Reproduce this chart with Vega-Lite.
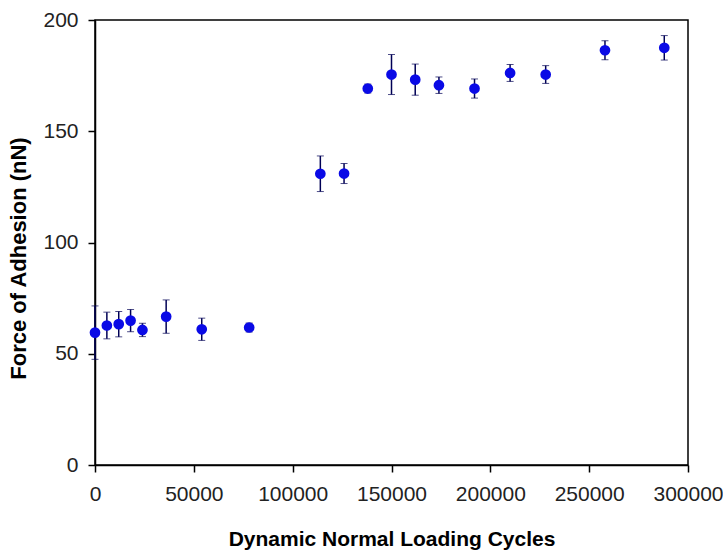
{
  "$schema": "https://vega.github.io/schema/vega-lite/v6.json",
  "width": 593,
  "height": 445,
  "autosize": {"type": "none"},
  "padding": {"left": 95, "top": 20, "right": 35, "bottom": 93},
  "background": "white",
  "config": {
    "view": {"stroke": "#000000", "strokeWidth": 1.5},
    "axis": {
      "grid": false,
      "domainColor": "#000000",
      "domainWidth": 1.5,
      "tickColor": "#000000",
      "tickWidth": 1.5,
      "tickSize": 7,
      "labelFont": "Liberation Sans",
      "labelFontSize": 21,
      "labelColor": "#222222",
      "labelOverlap": false,
      "labelFlush": false,
      "titleFont": "Liberation Sans",
      "titleFontWeight": "bold",
      "titleColor": "#000000"
    }
  },
  "data": {
    "values": [
      {"cycles": 0, "force": 59.5, "err": 12},
      {"cycles": 6000, "force": 62.7, "err": 6},
      {"cycles": 12000, "force": 63.3, "err": 5.7},
      {"cycles": 18000, "force": 64.9, "err": 5},
      {"cycles": 24000, "force": 60.7, "err": 3},
      {"cycles": 36000, "force": 66.7, "err": 7.5},
      {"cycles": 54000, "force": 61, "err": 5},
      {"cycles": 78000, "force": 61.8, "err": 2},
      {"cycles": 114000, "force": 130.9, "err": 8},
      {"cycles": 126000, "force": 131, "err": 4.5},
      {"cycles": 138000, "force": 169.2, "err": 2},
      {"cycles": 150000, "force": 175.5, "err": 9},
      {"cycles": 162000, "force": 173.2, "err": 7},
      {"cycles": 174000, "force": 170.7, "err": 3.7},
      {"cycles": 192000, "force": 169.2, "err": 4.3},
      {"cycles": 210000, "force": 176.2, "err": 3.8},
      {"cycles": 228000, "force": 175.5, "err": 4},
      {"cycles": 258000, "force": 186.4, "err": 4.3},
      {"cycles": 288000, "force": 187.5, "err": 5.5}
    ]
  },
  "transform": [
    {"calculate": "datum.force - datum.err", "as": "lo"},
    {"calculate": "datum.force + datum.err", "as": "hi"}
  ],
  "encoding": {
    "x": {
      "field": "cycles",
      "type": "quantitative",
      "scale": {"domain": [0, 300000], "nice": false},
      "axis": {
        "values": [0, 50000, 100000, 150000, 200000, 250000, 300000],
        "format": "d",
        "labelPadding": 11,
        "title": "Dynamic Normal Loading Cycles",
        "titleFontSize": 21,
        "titlePadding": 24
      }
    }
  },
  "layer": [
    {
      "mark": {"type": "errorbar", "ticks": {"size": 7, "color": "#000055"}, "rule": {"color": "#000055", "strokeWidth": 1.5}},
      "encoding": {
        "y": {
          "field": "lo",
          "type": "quantitative",
          "title": "Force of Adhesion (nN)",
          "scale": {"domain": [0, 200], "nice": false},
          "axis": {
            "values": [0, 50, 100, 150, 200],
            "labelPadding": 10,
            "title": "Force of Adhesion (nN)",
            "titleFontSize": 22,
            "titlePadding": 12,
            "titleY": 238
          }
        },
        "y2": {"field": "hi"}
      }
    },
    {
      "mark": {"type": "circle", "size": 115, "color": "#0a0ae6", "opacity": 1},
      "encoding": {
        "y": {
          "field": "force",
          "type": "quantitative",
          "title": "Force of Adhesion (nN)",
          "scale": {"domain": [0, 200], "nice": false}
        }
      }
    }
  ]
}
